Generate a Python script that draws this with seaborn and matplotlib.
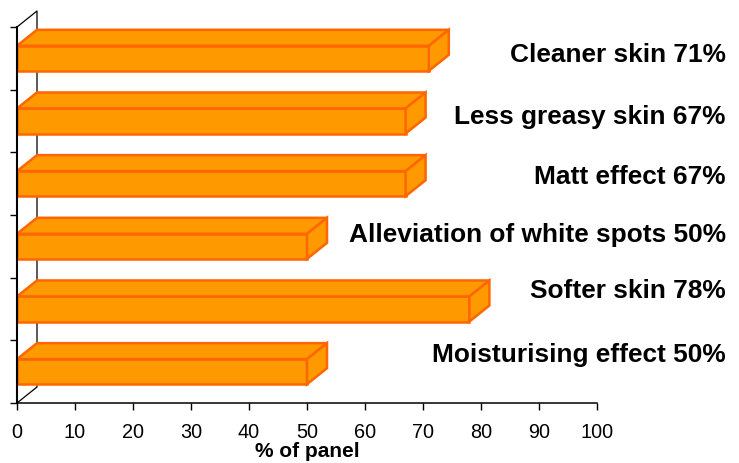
import matplotlib
matplotlib.use("Agg")
import matplotlib.pyplot as plt
from matplotlib.patches import Polygon
import numpy as np
import pandas as pd
import seaborn as sns

# Panel survey results
categories = [
    "Cleaner skin",
    "Less greasy skin",
    "Matt effect",
    "Alleviation of white spots",
    "Softer skin",
    "Moisturising effect",
]
percent = [71, 67, 67, 50, 78, 50]
x_ticks = [0, 10, 20, 30, 40, 50, 60, 70, 80, 90, 100]
x_label = "% of panel"

# Styling / layout
FACE = "#FF9900"
EDGE = "#FF6600"
DEPTH_PX = (20, 16)           # pseudo-3D extrusion (right, up) in pixels
LABEL_RIGHT_PX = 726          # right edge of the category labels
# baseline shift of each label relative to its bar centre, in pixels (down = +)
label_shift_px = [2.7, 2.3, -0.4, -5.3, -12.0, -10.7]

df = pd.DataFrame({"benefit": categories, "percent": percent})

sns.set_style("white")
plt.rcParams["font.family"] = ["Liberation Sans", "DejaVu Sans"]
plt.rcParams["text.color"] = "black"
plt.rcParams["axes.labelcolor"] = "black"
plt.rcParams["xtick.color"] = "black"
plt.rcParams["ytick.color"] = "black"

W, H = 739, 464
fig = plt.figure(figsize=(W / 100, H / 100), dpi=100)
ax = fig.add_axes([17 / W, 60 / H, 580 / W, 376 / H])

sns.barplot(
    data=df, x="percent", y="benefit", orient="h", width=0.4,
    color=FACE, saturation=1, edgecolor=EDGE, linewidth=1.8, ax=ax,
)

n = len(categories)
ax.set_xlim(0, 100)
ax.set_ylim(n - 0.5, -0.5)
ax.set_xticks(x_ticks)
ax.set_xticklabels([str(t) for t in x_ticks], fontsize=14.3)
ax.set_yticks(np.arange(n + 1) - 0.5)
ax.set_yticklabels([])
ax.set_ylabel("")
ax.set_xlabel(x_label, fontsize=15, fontweight="bold", labelpad=0)
ax.tick_params(axis="both", direction="out", length=5, width=1.0, color="black",
               labelcolor="black", bottom=True, left=True)
ax.tick_params(axis="x", pad=9)
for side in ("top", "right"):
    ax.spines[side].set_visible(False)
ax.spines["left"].set_color("black")
ax.spines["left"].set_linewidth(1.5)
ax.spines["bottom"].set_color("black")
ax.spines["bottom"].set_linewidth(1.1)

fig.canvas.draw()
to_disp = ax.transData.transform
to_data = ax.transData.inverted().transform


def back(x, y):
    px, py = to_disp((x, y))
    return to_data((px + DEPTH_PX[0], py + DEPTH_PX[1]))


# back wall of the pseudo-3D frame
top_front, bot_front = (0, -0.5), (0, n - 0.5)
top_back, bot_back = back(*top_front), back(*bot_front)
ax.plot([top_front[0], top_back[0], bot_back[0], bot_front[0]],
        [top_front[1], top_back[1], bot_back[1], bot_front[1]],
        color="black", lw=0.9, zorder=0.5, clip_on=False)

# extrude every bar: top face and right-hand face
for bar in list(ax.patches):
    x0, y0 = bar.get_x(), bar.get_y()
    x1, y1 = x0 + bar.get_width(), y0 + bar.get_height()
    ytop, ybot = min(y0, y1), max(y0, y1)
    top_face = [(x0, ytop), tuple(back(x0, ytop)), tuple(back(x1, ytop)), (x1, ytop)]
    side_face = [(x1, ytop), tuple(back(x1, ytop)), tuple(back(x1, ybot)), (x1, ybot)]
    for pts in (top_face, side_face):
        ax.add_patch(Polygon(pts, closed=True, facecolor=FACE, edgecolor=EDGE,
                             linewidth=1.8, joinstyle="miter", zorder=2,
                             clip_on=False))

# category labels with their percentages
label_x = (LABEL_RIGHT_PX - 17) / 580
for i, (cat, val) in enumerate(zip(categories, percent)):
    ax.annotate(f"{cat} {val}%", xy=(label_x, i), xycoords=ax.get_yaxis_transform(),
                xytext=(0, -label_shift_px[i] * 0.72), textcoords="offset points",
                ha="right", va="baseline", fontsize=18.9, fontweight="bold",
                color="black", annotation_clip=False)

fig.savefig("out.png", dpi=100)
